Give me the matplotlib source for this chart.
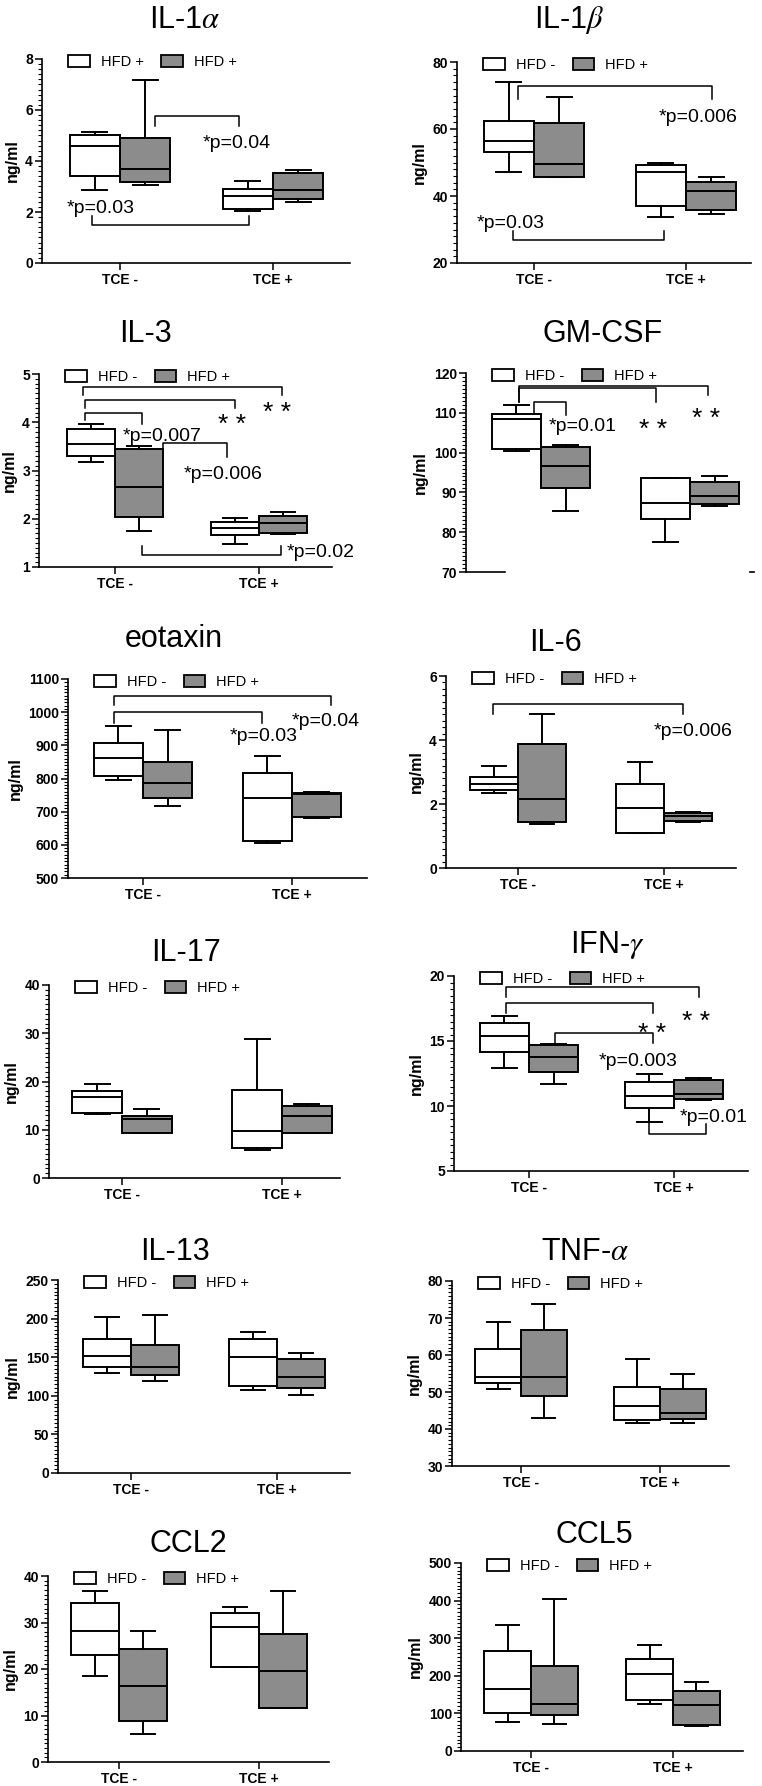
import matplotlib
matplotlib.use('Agg')
import matplotlib.pyplot as plt
from matplotlib.patches import Patch
from matplotlib.ticker import AutoMinorLocator

plt.rcParams['font.family'] = ['Liberation Sans', 'DejaVu Sans']
plt.rcParams['mathtext.fontset'] = 'stix'

categories = ['TCE -', 'TCE +']
colors = ['white', '#8c8c8c']

# box summaries per group: [whisker low, q1, median, q3, whisker high] for TCE -, TCE +
il1a_neg = [[2.85, 3.42, 4.60, 5.03, 5.14], [2.05, 2.12, 2.61, 2.92, 3.20]]
il1a_pos = [[3.07, 3.16, 3.70, 4.89, 7.19], [2.38, 2.52, 2.86, 3.52, 3.66]]
il1b_neg = [[47.3, 53.2, 56.5, 62.3, 74.0], [33.7, 36.9, 47.1, 49.2, 49.8]]
il1b_pos = [[45.6, 45.8, 49.5, 61.7, 69.5], [34.5, 35.7, 41.6, 44.1, 45.8]]
il3_neg = [[3.18, 3.30, 3.55, 3.87, 3.96], [1.47, 1.67, 1.80, 1.93, 2.02]]
il3_pos = [[1.74, 2.04, 2.66, 3.44, 3.51], [1.68, 1.71, 1.92, 2.05, 2.14]]
gmcsf_neg = [[100.3, 100.8, 108.5, 109.6, 112.0], [77.6, 83.2, 87.4, 93.5, 93.7]]
gmcsf_pos = [[85.3, 91.0, 96.7, 101.4, 102.0], [86.6, 87.0, 89.1, 92.6, 94.1]]
eotaxin_neg = [[796, 807, 862, 907, 957], [606, 611, 740, 817, 869]]
eotaxin_pos = [[716, 741, 786, 849, 947], [681, 684, 752, 756, 758]]
il6_neg = [[2.33, 2.45, 2.62, 2.83, 3.19], [1.08, 1.10, 1.86, 2.61, 3.32]]
il6_pos = [[1.37, 1.44, 2.17, 3.87, 4.81], [1.44, 1.46, 1.62, 1.72, 1.76]]
il17_neg = [[13.3, 13.4, 16.7, 18.0, 19.4], [5.9, 6.3, 9.7, 18.3, 28.9]]
il17_pos = [[9.4, 9.4, 12.2, 12.8, 14.3], [9.4, 9.4, 12.8, 14.9, 15.4]]
ifng_neg = [[12.89, 14.17, 15.40, 16.40, 16.94], [8.78, 9.88, 10.75, 11.81, 12.45]]
ifng_pos = [[11.73, 12.63, 13.78, 14.66, 14.76], [10.50, 10.57, 10.96, 11.99, 12.19]]
il13_neg = [[129.3, 137.9, 151.7, 173.7, 201.7], [107.8, 112.1, 150.9, 173.7, 182.3]]
il13_pos = [[119.4, 127.2, 137.0, 166.0, 205.2], [101.3, 109.9, 125.0, 147.8, 155.2]]
tnfa_neg = [[50.8, 52.3, 54.0, 61.5, 69.0], [41.5, 42.4, 46.2, 51.3, 58.9]]
tnfa_pos = [[42.9, 48.9, 54.0, 66.8, 73.7], [41.5, 42.7, 44.2, 50.8, 55.0]]
ccl2_neg = [[18.5, 23.0, 28.1, 34.1, 36.7], [20.4, 20.5, 29.1, 32.1, 33.4]]
ccl2_pos = [[6.1, 8.9, 16.4, 24.3, 28.1], [11.6, 11.7, 19.6, 27.5, 36.7]]
ccl5_neg = [[78, 102, 164, 267, 336], [125, 135, 204, 245, 281]]
ccl5_pos = [[72, 95, 124, 226, 405], [67, 68, 122, 160, 184]]

titles = ['IL-1$\\alpha$', 'IL-1$\\beta$', 'IL-3', 'GM-CSF', 'eotaxin', 'IL-6',
          'IL-17', 'IFN-$\\gamma$', 'IL-13', 'TNF-$\\alpha$', 'CCL2', 'CCL5']
yticks = [[0, 2, 4, 6, 8], [20, 40, 60, 80], [1, 2, 3, 4, 5], [70, 80, 90, 100, 110, 120],
          [500, 600, 700, 800, 900, 1000, 1100], [0, 2, 4, 6], [0, 10, 20, 30, 40],
          [5, 10, 15, 20], [0, 50, 100, 150, 200, 250], [30, 40, 50, 60, 70, 80],
          [0, 10, 20, 30, 40], [0, 100, 200, 300, 400, 500]]
legend_labels = [['HFD +', 'HFD +']] + [['HFD -', 'HFD +']] * 11
series = [(il1a_neg, il1a_pos), (il1b_neg, il1b_pos), (il3_neg, il3_pos),
          (gmcsf_neg, gmcsf_pos), (eotaxin_neg, eotaxin_pos), (il6_neg, il6_pos),
          (il17_neg, il17_pos), (ifng_neg, ifng_pos), (il13_neg, il13_pos),
          (tnfa_neg, tnfa_pos), (ccl2_neg, ccl2_pos), (ccl5_neg, ccl5_pos)]

# significance brackets: (x1, x2, bar y, left end y, right end y)
brackets = {
    0: [(1.23, 1.78, 5.75, 5.39, 5.39), (0.82, 1.84, 1.50, 1.86, 1.86)],
    1: [(0.895, 2.17, 72.8, 69.1, 69.1), (0.86, 1.855, 26.9, 29.7, 29.7)],
    2: [(0.78, 2.16, 4.74, 4.56, 4.56), (0.79, 1.83, 4.47, 4.30, 4.30),
        (0.79, 1.19, 4.20, 4.04, 3.96), (1.33, 1.78, 3.56, 3.46, 3.28),
        (1.19, 2.15, 1.24, 1.43, 1.43)],
    3: [(0.85, 2.12, 116.7, 112.7, 114.4), (0.85, 1.77, 116.2, 112.7, 112.7),
        (0.95, 1.17, 112.6, 109.8, 109.4)],
    4: [(0.805, 2.26, 1050, 1023, 1023), (0.805, 1.80, 999, 967, 967)],
    5: [(0.83, 2.13, 5.11, 4.81, 4.81)],
    7: [(0.84, 2.17, 19.13, 18.41, 18.41), (0.84, 1.855, 17.9, 17.18, 17.18),
        (1.18, 1.855, 15.63, 14.81, 14.86), (1.83, 2.22, 7.83, 8.78, 8.65)],
}
# p-value labels: (left x, centre y, text)
pvalues = {
    0: [(1.54, 4.77, '*p=0.04'), (0.65, 2.22, '*p=0.03')],
    1: [(1.82, 64.1, '*p=0.006'), (0.62, 32.4, '*p=0.03')],
    2: [(1.05, 3.75, '*p=0.007'), (1.48, 2.97, '*p=0.006'), (2.19, 1.35, '*p=0.02')],
    3: [(1.05, 107.1, '*p=0.01')],
    4: [(1.58, 935, '*p=0.03'), (2.0, 980, '*p=0.04')],
    5: [(1.93, 4.33, '*p=0.006')],
    7: [(1.48, 13.58, '*p=0.003'), (2.04, 9.29, '*p=0.01')],
}
double_stars = {
    2: [(2.125, 4.36), (1.81, 4.11)],
    3: [(1.75, 107.7), (2.11, 110.6)],
    7: [(1.85, 16.2), (2.15, 17.1)],
}

# layout in pixels: left, right, top, bottom, tick TCE-, tick TCE+, box width
W, H = 762, 1786
layout = [(42, 350, 59, 263, 120, 273, 0.33), (457, 751, 62, 263, 534, 686, 0.33),
          (39, 332, 374, 567, 115, 259, 0.33), (466, 751, 373, 572, 541, 690, 0.33),
          (68, 367, 679, 878, 143, 292, 0.33), (446, 736, 676, 868, 518, 664, 0.33),
          (49, 340, 985, 1178, 122, 282, 0.31), (454, 748, 976, 1171, 529, 674, 0.34),
          (58, 350, 1280, 1473, 131, 277, 0.33), (452, 729, 1281, 1466, 521, 660, 0.33),
          (48, 329, 1576, 1762, 119, 259, 0.34), (461, 743, 1563, 1751, 531, 673, 0.33)]
title_pos = [(185, 28), (569, 28), (145, 342), (603, 342), (174, 647), (555, 651),
             (186, 961), (607, 953), (175, 1260), (585, 1260), (188, 1552), (594, 1543)]

fig = plt.figure(figsize=(W / 100, H / 100), dpi=100)

for i, ((neg, pos), lay) in enumerate(zip(series, layout)):
    left, right, top, bottom, t1, t2, bw = lay
    ax = fig.add_axes([left / W, 1 - bottom / H, (right - left) / W, (bottom - top) / H])
    sp = t2 - t1
    ax.set_xlim(1 - (t1 - left) / sp, 2 + (right - t2) / sp)
    ax.set_ylim(yticks[i][0], yticks[i][-1])

    for g, (vals, col) in enumerate(zip([neg, pos], colors)):
        stats = [dict(whislo=v[0], q1=v[1], med=v[2], q3=v[3], whishi=v[4], fliers=[]) for v in vals]
        xs = [1 + (g - 0.5) * bw, 2 + (g - 0.5) * bw]
        ax.bxp(stats, positions=xs, widths=bw, showfliers=False, patch_artist=True,
               manage_ticks=False,
               boxprops=dict(facecolor=col, edgecolor='black', linewidth=1.4),
               medianprops=dict(color='black', linewidth=1.4),
               whiskerprops=dict(color='black', linewidth=1.4),
               capprops=dict(color='black', linewidth=1.4))

    for s in ['top', 'right']:
        ax.spines[s].set_visible(False)
    for s in ['left', 'bottom']:
        ax.spines[s].set_linewidth(1.2)

    ax.set_yticks(yticks[i], [str(t) for t in yticks[i]], fontweight='bold', fontsize=10)
    ax.yaxis.set_minor_locator(AutoMinorLocator(10))
    ax.tick_params(axis='y', which='major', length=5, width=1.1, pad=1.5)
    ax.tick_params(axis='y', which='minor', length=3, width=0.8)
    if i == 3:
        # this panel's x axis is cut off in the source figure
        ax.set_xticks([])
        ax.spines['bottom'].set_bounds(ax.get_xlim()[0], 0.76)
        ax.plot([2.405, 2.43], [70, 70], color='black', lw=1.2, clip_on=False)
    else:
        ax.set_xticks([1, 2], categories, fontweight='bold', fontsize=10)
        ax.tick_params(axis='x', length=5, width=1.1, pad=2)
    ax.set_ylabel('ng/ml', fontweight='bold', fontsize=11.5, labelpad=4)

    handles = [Patch(facecolor=c, edgecolor='black', linewidth=1.3) for c in colors]
    ax.legend(handles, legend_labels[i], loc='center left',
              bbox_to_anchor=(26 / (right - left), 1 - 3 / (bottom - top)),
              ncol=2, frameon=False, fontsize=10.5, handlelength=1.5, handleheight=0.8,
              handletextpad=0.75, columnspacing=1.2, borderpad=0, borderaxespad=0)

    for x1, x2, y, yl, yr in brackets.get(i, []):
        ax.plot([x1, x1, x2, x2], [yl, y, y, yr], color='black', lw=1.1, clip_on=False)
    for x, y, s in pvalues.get(i, []):
        ax.annotate(s, (x, y), xytext=(0, -5), textcoords='offset points',
                    ha='left', va='baseline', fontsize=14)
    for x, y in double_stars.get(i, []):
        ax.annotate('* *', (x, y), xytext=(0, -11), textcoords='offset points',
                    ha='center', va='baseline', fontsize=19)

    tx, ty = title_pos[i]
    fig.text(tx / W, 1 - ty / H, titles[i], ha='center', va='baseline', fontsize=22)

fig.savefig('out.png', dpi=100)
